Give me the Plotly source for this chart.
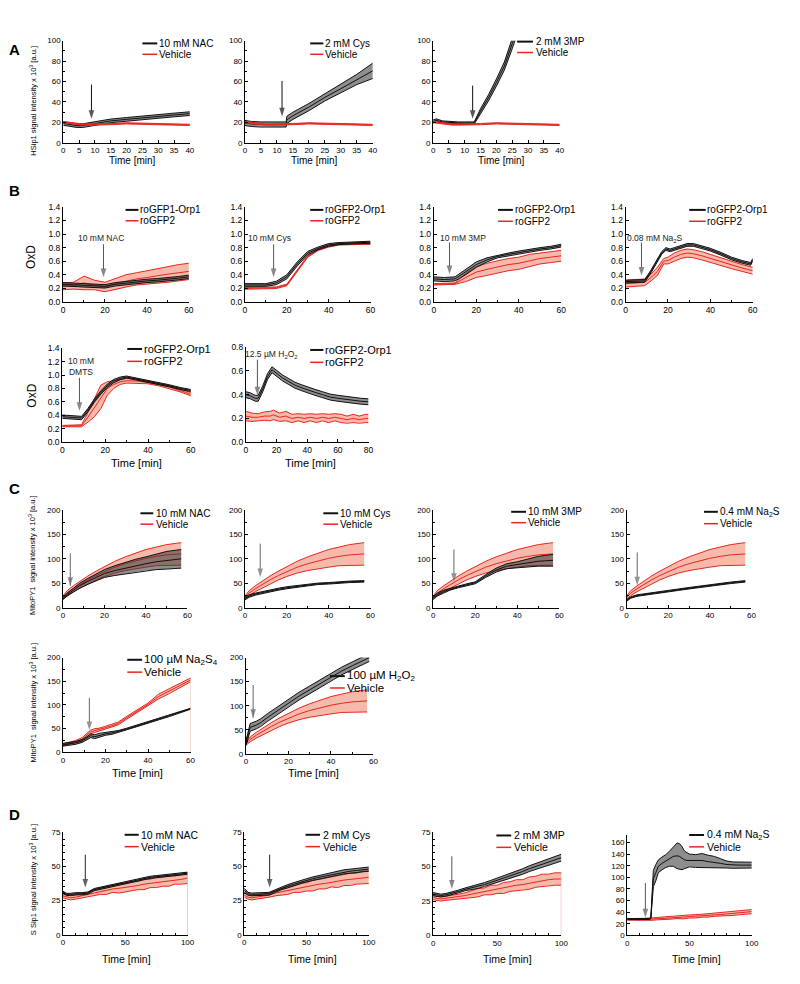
import plotly.graph_objects as go

W, H = 800, 984
FONT = "Arial, Liberation Sans, Helvetica, sans-serif"
BLACK = "#111111"
RED = "#e8261e"
GRAY_FILL = "rgba(60,60,60,0.58)"
RED_FILL = "rgba(238,100,70,0.45)"

# ---------------- Panel A : HSip1 ----------------
A_veh_t = [0, 2, 4, 6, 8, 10, 15, 20, 25, 30, 35, 40]
A_veh_m = [20.3, 19.3, 18.5, 18.0, 17.9, 17.9, 18.4, 19.1, 18.7, 18.3, 18.0, 17.6]
A_veh_sd = [0.6, 0.6, 0.6, 0.6, 0.6, 0.6, 0.6, 0.6, 0.6, 0.6, 0.6, 0.6]

A1_t = [0, 2, 4, 6, 8, 10, 15, 20, 25, 30, 35, 40]
A1_m = [19.0, 18.0, 17.0, 16.8, 17.8, 19.5, 21.5, 23.0, 24.6, 26.0, 27.3, 28.6]
A1_sd = [1.8, 1.8, 1.8, 1.8, 1.8, 1.8, 1.8, 1.8, 1.8, 1.8, 1.8, 1.8]

A2_t = [0, 2, 5, 8, 12.9, 13.1, 15, 20, 25, 30, 35, 40]
A2_m = [19.5, 18.5, 18.0, 18.0, 18.0, 22.5, 26.5, 35.0, 44.5, 53.0, 62.0, 70.5]
A2_sd = [2.5, 2.5, 2.5, 2.5, 2.5, 3.5, 3.5, 3.5, 3.5, 4.0, 5.0, 7.5]

A3_t = [0, 1, 3, 5, 8, 10, 13, 15, 17.5, 20, 22.5, 25, 26]
A3_m = [21.0, 22.0, 20.5, 20.0, 19.5, 19.5, 19.5, 31.0, 44.0, 59.0, 75.0, 97.0, 106.0]
A3_sd = [1.5, 1.5, 1.0, 1.0, 1.0, 1.0, 1.0, 2.5, 3.0, 3.5, 4.0, 5.0, 5.0]

A_arrow_t = [8.9, 11.6, 12.5]

# ---------------- Panel B : OxD ----------------
B_t = [0, 5, 10, 15, 20, 25, 30, 35, 40, 45, 50, 55, 60]
B1_k_m = [0.26, 0.25, 0.24, 0.23, 0.23, 0.26, 0.28, 0.30, 0.31, 0.32, 0.33, 0.35, 0.37]
B1_k_sd = [0.025, 0.025, 0.025, 0.025, 0.025, 0.025, 0.025, 0.025, 0.025, 0.025, 0.025, 0.025, 0.025]
B1_r_m = [0.23, 0.24, 0.28, 0.25, 0.22, 0.27, 0.31, 0.34, 0.36, 0.39, 0.41, 0.43, 0.45]
B1_r_sd = [0.05, 0.05, 0.10, 0.07, 0.07, 0.08, 0.09, 0.09, 0.10, 0.11, 0.12, 0.12, 0.12]

B2_k_m = [0.25, 0.25, 0.25, 0.28, 0.37, 0.56, 0.72, 0.79, 0.84, 0.86, 0.87, 0.88, 0.88]
B2_k_sd = [0.02, 0.02, 0.02, 0.025, 0.03, 0.03, 0.025, 0.02, 0.02, 0.015, 0.015, 0.015, 0.015]
B2_r_m = [0.20, 0.20, 0.20, 0.21, 0.25, 0.46, 0.67, 0.77, 0.82, 0.85, 0.86, 0.86, 0.86]
B2_r_sd = [0.012, 0.012, 0.012, 0.012, 0.012, 0.012, 0.012, 0.012, 0.012, 0.012, 0.012, 0.012, 0.012]

B3_k_m = [0.34, 0.33, 0.34, 0.44, 0.55, 0.62, 0.67, 0.70, 0.73, 0.76, 0.78, 0.80, 0.83]
B3_k_sd = [0.03, 0.03, 0.03, 0.04, 0.04, 0.03, 0.02, 0.02, 0.02, 0.02, 0.02, 0.02, 0.02]
B3_r_m = [0.26, 0.26, 0.27, 0.36, 0.44, 0.48, 0.52, 0.55, 0.57, 0.61, 0.64, 0.66, 0.68]
B3_r_sd = [0.01, 0.01, 0.01, 0.06, 0.08, 0.09, 0.09, 0.09, 0.09, 0.09, 0.08, 0.08, 0.08]

B4_k_t = [0, 5, 9, 12, 15, 17, 19, 21, 23, 26, 29, 32, 36, 40, 45, 50, 55, 59, 60]
B4_k_m = [0.30, 0.30, 0.31, 0.45, 0.62, 0.72, 0.78, 0.76, 0.78, 0.81, 0.84, 0.84, 0.81, 0.77, 0.71, 0.64, 0.59, 0.56, 0.62]
B4_k_sd = [0.02, 0.02, 0.02, 0.02, 0.02, 0.02, 0.02, 0.02, 0.02, 0.02, 0.02, 0.02, 0.02, 0.02, 0.02, 0.02, 0.02, 0.02, 0.02]
B4_r_t = [0, 5, 9, 12, 15, 18, 20, 23, 26, 29, 32, 36, 40, 45, 50, 55, 60]
B4_r_m = [0.27, 0.28, 0.29, 0.36, 0.45, 0.60, 0.61, 0.66, 0.70, 0.72, 0.71, 0.68, 0.64, 0.59, 0.54, 0.50, 0.46]
B4_r_sd = [0.05, 0.05, 0.05, 0.05, 0.06, 0.04, 0.05, 0.06, 0.06, 0.06, 0.06, 0.06, 0.06, 0.06, 0.05, 0.05, 0.05]

B5_t = [0, 4, 8, 9, 12, 15, 18, 21, 24, 27, 30, 35, 40, 45, 50, 55, 60]
B5_k_m = [0.38, 0.37, 0.36, 0.36, 0.48, 0.62, 0.74, 0.84, 0.91, 0.95, 0.97, 0.94, 0.90, 0.87, 0.84, 0.80, 0.77]
B5_k_sd = [0.025, 0.025, 0.025, 0.025, 0.025, 0.025, 0.025, 0.025, 0.025, 0.02, 0.015, 0.015, 0.015, 0.015, 0.015, 0.015, 0.015]
B5_r_m = [0.24, 0.24, 0.24, 0.245, 0.375, 0.515, 0.675, 0.80, 0.86, 0.90, 0.915, 0.91, 0.89, 0.86, 0.82, 0.77, 0.715]
B5_r_sd = [0.01, 0.01, 0.01, 0.015, 0.075, 0.135, 0.175, 0.10, 0.06, 0.04, 0.035, 0.03, 0.02, 0.02, 0.02, 0.02, 0.025]

B6_k_t = [0, 3, 6, 8, 11, 14, 17, 20, 24, 28, 32, 36, 40, 45, 50, 55, 60, 65, 70, 75, 80]
B6_k_m = [0.40, 0.39, 0.37, 0.37, 0.45, 0.55, 0.61, 0.58, 0.54, 0.51, 0.48, 0.46, 0.44, 0.42, 0.40, 0.38, 0.37, 0.36, 0.35, 0.345, 0.34]
B6_k_sd = [0.025, 0.025, 0.025, 0.025, 0.025, 0.025, 0.025, 0.025, 0.025, 0.025, 0.025, 0.025, 0.025, 0.025, 0.025, 0.025, 0.025, 0.025, 0.025, 0.025, 0.025]
B6_r_t = [0, 4, 8, 12, 16, 18, 22, 26, 30, 34, 38, 42, 46, 50, 54, 58, 62, 66, 70, 74, 78, 80]
B6_r_m = [0.22, 0.21, 0.21, 0.22, 0.22, 0.23, 0.21, 0.22, 0.20, 0.21, 0.20, 0.21, 0.20, 0.21, 0.20, 0.21, 0.20, 0.19, 0.20, 0.19, 0.20, 0.20]
B6_r_sd = [0.04, 0.035, 0.03, 0.035, 0.04, 0.04, 0.035, 0.04, 0.035, 0.03, 0.035, 0.03, 0.035, 0.03, 0.035, 0.03, 0.035, 0.03, 0.035, 0.03, 0.035, 0.035]

B_arrow_t = [19.3, 13.7, 7.4, 7.5, 8.0, 7.5]

# ---------------- Panel C : MitoPY1 ----------------
C_t = [0, 2, 5, 8, 12, 16, 20, 25, 30, 35, 40, 45, 50, 57]
C_veh_m = [21, 30, 39, 47, 57, 66, 74, 83, 90, 96, 101, 105, 108, 110]
C_veh_sd = [3, 5, 6, 7, 8, 9, 10, 12, 14, 16, 18, 19, 21, 23]
C1_m = [19, 27, 36, 45, 54, 62, 70, 76, 81, 86, 90, 94, 97, 100]
C1_sd = [2, 3, 4, 5, 6, 7, 8, 10, 12, 13, 14, 16, 18, 19]
C2_m = [19, 24, 28, 31, 35, 38, 41, 44, 47, 49, 50, 52, 53, 54]
C2_sd = [3, 2.5, 2, 2, 2, 2, 2, 2, 1.5, 1.5, 1.5, 1.5, 1.5, 1.5]
C3_m = [20, 27, 33, 38, 43, 47, 51, 65, 77, 85, 88, 92, 95, 97]
C3_sd = [3, 3, 3, 2, 2, 2, 2, 3, 4, 5, 6, 8, 10, 12]
C4_m = [15, 21, 25, 27, 29, 31, 34, 37, 40, 43, 46, 49, 51, 54]
C4_sd = [1.5, 1.5, 1.5, 1.5, 1.5, 1.5, 1.5, 1.5, 1.5, 1.5, 1.5, 1.5, 1.5, 1.5]

C5_t = [0, 3, 6, 9, 11, 13, 15, 17, 20, 23, 26, 30, 35, 40, 45, 50, 55, 60]
C5_k_m = [16, 18, 20, 24, 29, 35, 33, 36, 39, 41, 44, 49, 56, 63, 70, 77, 85, 92]
C5_k_sd = [3, 3, 3, 3, 3, 4, 4, 4, 3, 3, 2, 2, 2, 1.5, 1.5, 1.5, 1, 1]
C5_r_m = [16, 19, 23, 28, 36, 43, 46, 48, 52, 56, 61, 73, 87, 101, 118, 129, 141, 153]
C5_r_sd = [2, 2, 2, 3, 4, 4, 4, 3, 3, 3, 3, 3, 3, 3, 5, 5, 4, 4]

C6_k_t = [0, 2, 5, 7, 10, 15, 20, 25, 30, 35, 40, 45, 50, 55, 58]
C6_k_m = [22, 55, 60, 65, 75, 90, 106, 120, 133, 146, 160, 172, 183, 194, 200]
C6_k_sd = [5, 8, 8, 8, 8, 8, 8, 8, 8, 8, 8, 8, 8, 8, 8]

C_arrow_t = [3.5, 7.3, 9.9, 5.1, 12.4, 3.4]

# ---------------- Panel D : SSip1 ----------------
D_t = [0, 3, 6, 10, 15, 20, 25, 30, 35, 40, 45, 50, 55, 60, 65, 70, 75, 80, 85, 90, 95, 100]
D1_k_m = [31, 29.5, 29.5, 30, 30, 30.5, 33, 34, 35, 36.5, 37, 38, 39, 40, 41, 42, 42.5, 43, 43.5, 44, 44.5, 45]
D1_k_sd = [0.8, 0.8, 0.8, 0.8, 0.8, 0.8, 0.8, 0.8, 0.8, 0.8, 0.8, 0.8, 0.8, 0.8, 0.8, 0.8, 0.8, 0.8, 0.8, 0.8, 0.8, 0.8]
D1_r_m = [28.5, 27.5, 27, 27.5, 28.5, 29.5, 31, 32, 32.5, 33.5, 34, 34.5, 35.5, 36, 37, 37.5, 38.5, 39, 39.5, 40, 40.5, 41.5]
D1_r_sd = [1.5, 1.5, 1.5, 1.5, 1.5, 1.5, 2, 2.5, 3, 2.5, 3.5, 3, 3.5, 3, 4, 3, 4, 3.5, 4, 3, 3.5, 4]

D2_k_m = [32.5, 30, 29.5, 29.5, 29.5, 30, 32, 34, 35.5, 37, 38.5, 40, 41, 42, 43, 44, 45, 46, 46.5, 47, 47.5, 48]
D2_k_sd = [1.5, 1, 1, 1, 1, 1, 1, 1, 1.2, 1.2, 1.2, 1.3, 1.3, 1.3, 1.4, 1.4, 1.4, 1.5, 1.5, 1.5, 1.5, 1.5]
D2_r_m = [29, 27.5, 27, 27.5, 28, 29, 30.5, 31.5, 32.5, 33.5, 34.5, 35, 36, 37, 37.5, 38.5, 39, 40, 40.5, 41, 42, 42]
D2_r_sd = [1.5, 1.5, 1.5, 1.5, 1.5, 1.5, 2, 2.5, 3, 2.5, 3.5, 3, 4, 3.5, 4, 3.5, 4.5, 4, 4.5, 4, 4.5, 4.5]

D3_k_m = [30, 29.5, 29, 29.5, 30.5, 32, 33.5, 34.5, 35.5, 37, 38.5, 40, 41.5, 43, 44.5, 46.5, 48.5, 50, 52, 53.5, 55, 56.5]
D3_k_sd = [1.2, 1, 1, 1, 1, 1, 1, 1.2, 1.3, 1.4, 1.5, 1.6, 1.7, 1.8, 1.9, 2, 2.1, 2.2, 2.3, 2.4, 2.5, 2.5]
D3_r_m = [27.5, 27, 26.5, 27, 27.5, 28, 29, 30, 31, 32, 33, 33.5, 34.5, 35.5, 36.5, 37, 38, 39, 40, 40.5, 41, 41]
D3_r_sd = [1.5, 1.5, 1.5, 1.5, 1.5, 2, 2, 2.5, 3, 2.5, 3.5, 3, 4, 3.5, 4, 3.5, 4.5, 4, 4.5, 4, 4.5, 4.5]

D4_k_t = [0, 5, 10, 15, 17, 18, 19, 20, 21, 23, 25, 28, 31, 34, 37, 40, 42, 44, 46, 48, 50, 55, 60, 65, 70, 75, 80, 85, 90, 95, 100]
D4_k_m = [28, 28, 27.5, 27.5, 28, 28.5, 30, 75, 98, 108, 119, 124, 128, 132, 136, 137, 136, 133, 130, 129, 129, 128, 129, 127, 126, 124, 122, 121, 121, 121, 121]
D4_k_sd = [1, 1, 1, 1, 1, 1, 1, 12, 14, 14, 11, 11, 11, 13, 17, 22, 22, 20, 15, 13, 11, 11, 12, 11, 10, 8, 6, 5.5, 5, 5, 5]
D4_r_m = [28, 27.5, 27, 27, 27.5, 28, 29, 29.5, 30.5, 31, 31.5, 32.5, 33, 34, 34.5, 35.5, 36, 37, 38, 39, 40, 41]
D4_r_sd = [1.5, 1, 1, 1.5, 1.5, 2, 2, 2.5, 2.5, 2, 3, 2.5, 3, 2.5, 3, 2.5, 3, 3, 3.5, 3, 3.5, 3.5]

D_arrow_t = [17.9, 20.4, 14.6, 14.6]

# ---------------- Text ----------------
A_labels = ["10 mM NAC", "2 mM Cys", "2 mM 3MP"]
B_labels = ["roGFP1-Orp1", "roGFP2-Orp1", "roGFP2-Orp1", "roGFP2-Orp1", "roGFP2-Orp1", "roGFP2-Orp1"]
B_treat = ["10 mM NAC", "10 mM Cys", "10 mM 3MP", "0.08 mM Na<sub>2</sub>S", "10 mM<br>DMTS",
           "12.5 µM H<sub>2</sub>O<sub>2</sub>"]
C_labels = ["10 mM NAC", "10 mM Cys", "10 mM 3MP", "0.4 mM Na<sub>2</sub>S",
            "100 µM Na<sub>2</sub>S<sub>4</sub>", "100 µM H<sub>2</sub>O<sub>2</sub>"]
D_labels = ["10 mM NAC", "2 mM Cys", "2 mM 3MP", "0.4 mM Na<sub>2</sub>S"]


def P(x, y):
    return x / W, 1 - y / H


panels = [
    # ---- A ----
    dict(box=(62, 190, 36, 139.3), xr=[0, 40], yr=[0, 100], xd=5, xm=None, yd=20, ym=10, fmt="",
         k=(A1_t, A1_m, A1_sd), r=(A_veh_t, A_veh_m, A_veh_sd), red_top=True,
         arrow=(A_arrow_t[0], 57, 23.5), acol="#111",
         leg=((142, 157), 158, (38.8, 49.8), A_labels[0], "Vehicle", 10)),
    dict(box=(245.7, 375, 36, 139.3), xr=[0, 40], yr=[0, 100], xd=5, xm=None, yd=20, ym=10, fmt="",
         k=(A2_t, A2_m, A2_sd), r=(A_veh_t, A_veh_m, A_veh_sd), red_top=True,
         arrow=(A_arrow_t[1], 60.6, 26), acol="#111",
         leg=((311.7, 325), 326, (38.8, 49.8), A_labels[1], "Vehicle", 10)),
    dict(box=(436, 564, 36, 139.3), xr=[0, 40], yr=[0, 100], xd=5, xm=None, yd=20, ym=10, fmt="",
         k=(A3_t, A3_m, A3_sd), r=(A_veh_t, A_veh_m, A_veh_sd), red_top=True,
         arrow=(A_arrow_t[2], 56, 23.5), acol="#111",
         leg=((521, 537), 539, (37, 48), A_labels[2], "Vehicle", 10)),
    # ---- B row 1 ----
    dict(box=(61.7, 189, 204, 300), xr=[0, 60], yr=[0, 1.4], xd=20, xm=10, yd=0.2, ym=None, fmt=".1f",
         k=(B_t, B1_k_m, B1_k_sd), r=(B_t, B1_r_m, B1_r_sd),
         arrow=(B_arrow_t[0], 0.85, 0.365), acol="#555", atext=(B_treat[0], 100, 235.7),
         leg=((125, 138), 139, (207, 218), B_labels[0], "roGFP2", 10)),
    dict(box=(245.7, 372.7, 204, 300), xr=[0, 60], yr=[0, 1.4], xd=20, xm=10, yd=0.2, ym=None, fmt=".1f",
         k=(B_t, B2_k_m, B2_k_sd), r=(B_t, B2_r_m, B2_r_sd),
         arrow=(B_arrow_t[1], 0.85, 0.365), acol="#555", atext=(B_treat[1], 270.7, 235.7),
         leg=((311.7, 325), 326, (207, 218), B_labels[1], "roGFP2", 10)),
    dict(box=(436.7, 565.7, 204, 300), xr=[0, 60], yr=[0, 1.4], xd=20, xm=10, yd=0.2, ym=None, fmt=".1f",
         k=(B_t, B3_k_m, B3_k_sd), r=(B_t, B3_r_m, B3_r_sd),
         arrow=(B_arrow_t[2], 0.875, 0.41), acol="#555", atext=(B_treat[2], 466.7, 235.7),
         leg=((501.7, 516.7), 518.3, (207, 218.5), B_labels[2], "roGFP2", 10)),
    dict(box=(630.7, 759.3, 204, 300), xr=[0, 60], yr=[0, 1.4], xd=20, xm=10, yd=0.2, ym=None, fmt=".1f",
         k=(B4_k_t, B4_k_m, B4_k_sd), r=(B4_r_t, B4_r_m, B4_r_sd),
         arrow=(B_arrow_t[3], 0.875, 0.39), acol="#555", atext=(B_treat[3], 660, 235.7),
         leg=((695, 711.7), 712.3, (207, 218.5), B_labels[3], "roGFP2", 10)),
    # ---- B row 2 ----
    dict(box=(61, 191, 346.7, 441.7), xr=[0, 60], yr=[0, 1.4], xd=20, xm=10, yd=0.2, ym=None, fmt=".1f",
         k=(B5_t, B5_k_m, B5_k_sd), r=(B5_t, B5_r_m, B5_r_sd),
         arrow=(B_arrow_t[4], 0.958, 0.467), acol="#555", atext=(B_treat[4], 80, 365.5),
         leg=((126.7, 141.7), 142.5, (347.5, 360), B_labels[4], "roGFP2", 11)),
    dict(box=(246.7, 370.7, 345.7, 441.7), xr=[0, 80], yr=[0, 0.8], xd=20, xm=10, yd=0.2, ym=None, fmt=".1f",
         k=(B6_k_t, B6_k_m, B6_k_sd), r=(B6_r_t, B6_r_m, B6_r_sd),
         arrow=(B_arrow_t[5], 0.695, 0.395), acol="#555", atext=(B_treat[5], 273, 353.3),
         leg=((311.7, 325), 325.5, (348.5, 361), B_labels[5], "roGFP2", 11)),
    # ---- C row 1 ----
    dict(box=(61.7, 187.5, 510, 609), xr=[0, 60], yr=[0, 200], xd=20, xm=10, yd=50, ym=25, fmt="",
         k=(C_t, C1_m, C1_sd), r=(C_t, C_veh_m, C_veh_sd),
         arrow=(C_arrow_t[0], 111, 45), acol="#666",
         leg=((140, 153), 154.5, (513.5, 524.5), C_labels[0], "Vehicle", 10)),
    dict(box=(245.7, 372.7, 510, 609), xr=[0, 60], yr=[0, 200], xd=20, xm=10, yd=50, ym=25, fmt="",
         k=(C_t, C2_m, C2_sd), r=(C_t, C_veh_m, C_veh_sd),
         arrow=(C_arrow_t[1], 131, 63), acol="#666",
         leg=((325, 340), 340.7, (513.5, 524.5), C_labels[1], "Vehicle", 10)),
    dict(box=(436, 563.7, 510, 609), xr=[0, 60], yr=[0, 200], xd=20, xm=10, yd=50, ym=25, fmt="",
         k=(C_t, C3_m, C3_sd), r=(C_t, C_veh_m, C_veh_sd),
         arrow=(C_arrow_t[2], 119, 53), acol="#666",
         leg=((515, 530), 531, (512, 523), C_labels[2], "Vehicle", 10)),
    dict(box=(631.7, 758, 510, 609), xr=[0, 60], yr=[0, 200], xd=20, xm=10, yd=50, ym=25, fmt="",
         k=(C_t, C4_m, C4_sd), r=(C_t, C_veh_m, C_veh_sd),
         arrow=(C_arrow_t[3], 113, 46), acol="#666",
         leg=((710, 724), 725, (512, 524), C_labels[3], "Vehicle", 10)),
    # ---- C row 2 ----
    dict(box=(61.7, 190.7, 659.3, 755), xr=[0, 60], yr=[0, 200], xd=20, xm=10, yd=50, ym=25, fmt="",
         k=(C5_t, C5_k_m, C5_k_sd), r=(C5_t, C5_r_m, C5_r_sd),
         arrow=(C_arrow_t[4], 115, 47), acol="#666", vline="rgba(225,170,160,0.7)",
         leg=((126.7, 141.7), 143, (661.5, 674), C_labels[4], "Vehicle", 11.5),
         xtitle=(136.7, 776, 11)),
    dict(box=(246.7, 375.7, 659.3, 756.5), xr=[0, 60], yr=[0, 200], xd=20, xm=10, yd=50, ym=25, fmt="",
         k=(C6_k_t, C6_k_m, C6_k_sd), r=(C_t, C_veh_m, C_veh_sd),
         arrow=(C_arrow_t[5], 143, 75), acol="#666",
         leg=((331.7, 346.7), 348, (678, 690), C_labels[5], "Vehicle", 11.5),
         xtitle=(315, 776, 11)),
    # ---- D ----
    dict(box=(61.7, 187.7, 835.7, 939.3), xr=[0, 100], yr=[0, 75], xd=50, xm=10, yd=25, ym=5, fmt="",
         k=(D_t, D1_k_m, D1_k_sd), r=(D_t, D1_r_m, D1_r_sd),
         arrow=(D_arrow_t[0], 58.6, 34.5), acol="#222", vline="rgba(200,150,140,0.8)",
         leg=((124, 138.3), 140, (838.3, 850.3), D_labels[0], "Vehicle", 10.5),
         xtitle=(125.8, 964, 10.5)),
    dict(box=(245, 371, 835.7, 939.3), xr=[0, 100], yr=[0, 75], xd=50, xm=10, yd=25, ym=5, fmt="",
         k=(D_t, D2_k_m, D2_k_sd), r=(D_t, D2_r_m, D2_r_sd),
         arrow=(D_arrow_t[1], 58.6, 34.5), acol="#222",
         leg=((307, 321.7), 323.3, (838.3, 850.3), D_labels[1], "Vehicle", 10.5),
         xtitle=(314, 964, 10.5)),
    dict(box=(436, 565.7, 835.7, 940), xr=[0, 100], yr=[0, 75], xd=50, xm=10, yd=25, ym=5, fmt="",
         k=(D_t, D3_k_m, D3_k_sd), r=(D_t, D3_r_m, D3_r_sd),
         arrow=(D_arrow_t[2], 57.5, 34), acol="#555", vline="rgba(225,170,160,0.8)",
         leg=((500, 515), 516.7, (839, 851), D_labels[2], "Vehicle", 10.5),
         xtitle=(511.7, 964, 10.5)),
    dict(box=(632.3, 758.3, 839, 940), xr=[0, 100], yr=[0, 172], xd=50, xm=10, yd=20, ym=None, fmt="",
         k=(D4_k_t, D4_k_m, D4_k_sd), r=(D_t, D4_r_m, D4_r_sd),
         arrow=(D_arrow_t[3], 90, 31), acol="#555",
         leg=((695, 710), 711.7, (838.5, 850.5), D_labels[3], "Vehicle", 10.5),
         xtitle=(702.5, 964, 10.5)),
]

fig = go.Figure()
layout = {}
annotations = []
shapes = []


def add_band(xa, ya, t, m, sd, lc, fc):
    hi = [a + b for a, b in zip(m, sd)]
    lo = [a - b for a, b in zip(m, sd)]
    fig.add_trace(go.Scatter(x=list(t) + list(t)[::-1], y=hi + lo[::-1], fill="toself", fillcolor=fc,
                             mode="lines", line=dict(width=0), xaxis=xa, yaxis=ya,
                             hoverinfo="skip", showlegend=False))
    for yy in (hi, lo, m):
        fig.add_trace(go.Scatter(x=t, y=yy, mode="lines", line=dict(color=lc, width=1),
                                 xaxis=xa, yaxis=ya, hoverinfo="skip", showlegend=False))
    return hi


def axis_base(fs):
    return dict(showline=True, linecolor="black", linewidth=1, ticks="inside", ticklen=3,
                tickwidth=1, tickcolor="black", showgrid=False, zeroline=False,
                tickfont=dict(family=FONT, size=fs, color="black"), fixedrange=True)


for i, p in enumerate(panels, start=1):
    xa = "x" if i == 1 else f"x{i}"
    ya = "y" if i == 1 else f"y{i}"
    l, r, t, b = p["box"]
    xd = axis_base(8.5 if p["fmt"] else 8)
    xd.update(domain=[l / W, r / W], range=p["xr"], anchor=ya, tick0=0, dtick=p["xd"])
    if p["xm"]:
        xd["minor"] = dict(dtick=p["xm"], ticks="inside", ticklen=2, tickcolor="black", showgrid=False)
    yd = axis_base(8.5 if p["fmt"] else 8)
    yd.update(domain=[1 - b / H, 1 - t / H], range=p["yr"], anchor=xa, tick0=0, dtick=p["yd"])
    if p["fmt"]:
        yd["tickformat"] = p["fmt"]
    if p["ym"]:
        yd["minor"] = dict(dtick=p["ym"], ticks="inside", ticklen=2, tickcolor="black", showgrid=False)
    layout["xaxis" if i == 1 else f"xaxis{i}"] = xd
    layout["yaxis" if i == 1 else f"yaxis{i}"] = yd

    kt, km, ks = p["k"]
    rt, rm, rs = p["r"]
    if p.get("red_top"):
        add_band(xa, ya, kt, km, ks, BLACK, GRAY_FILL)
        rhi = add_band(xa, ya, rt, rm, rs, RED, RED_FILL)
    else:
        rhi = add_band(xa, ya, rt, rm, rs, RED, RED_FILL)
        add_band(xa, ya, kt, km, ks, BLACK, GRAY_FILL)
    if p.get("vline"):
        fig.add_trace(go.Scatter(x=[rt[-1], rt[-1]], y=[0, rhi[-1]], mode="lines",
                                 line=dict(color=p["vline"], width=1.2), xaxis=xa, yaxis=ya,
                                 hoverinfo="skip", showlegend=False))

    # arrow marking the time of addition
    at, ytop, ytip = p["arrow"]
    fig.add_trace(go.Scatter(x=[at, at], y=[ytop, ytip], mode="lines+markers",
                             line=dict(color=p["acol"], width=1),
                             marker=dict(symbol="arrow", size=[0, 9], angleref="previous",
                                         color=p["acol"], line=dict(width=0)),
                             xaxis=xa, yaxis=ya, hoverinfo="skip", showlegend=False, cliponaxis=False))
    if p.get("atext"):
        txt, tx, ty = p["atext"]
        px_, py_ = P(tx, ty)
        annotations.append(dict(x=px_, y=py_, xref="paper", yref="paper", text=txt, showarrow=False,
                                xanchor="center", yanchor="middle",
                                font=dict(family=FONT, size=8.5, color="#222")))

    # legend
    (lx0, lx1), tx, (ty1, ty2), lab1, lab2, fs = p["leg"]
    for yy, col, lab, lw in ((ty1, BLACK, lab1, 2), (ty2, RED, lab2, 1.5)):
        x0, y0 = P(lx0, yy)
        x1, _ = P(lx1, yy)
        shapes.append(dict(type="line", xref="paper", yref="paper", x0=x0, x1=x1, y0=y0, y1=y0,
                           line=dict(color=col, width=lw)))
        ax_, ay_ = P(tx, yy)
        annotations.append(dict(x=ax_, y=ay_, xref="paper", yref="paper", text=lab, showarrow=False,
                                xanchor="left", yanchor="middle", borderpad=0,
                                font=dict(family=FONT, size=fs, color="black")))
    if p.get("xtitle"):
        cx, cy, fs2 = p["xtitle"]
        ax_, ay_ = P(cx, cy)
        annotations.append(dict(x=ax_, y=ay_, xref="paper", yref="paper", text="Time [min]",
                                showarrow=False, xanchor="center", yanchor="middle",
                                font=dict(family=FONT, size=fs2, color="black")))

# B row 2 x titles
for cx in (135.8, 312):
    ax_, ay_ = P(cx, 462.5)
    annotations.append(dict(x=ax_, y=ay_, xref="paper", yref="paper", text="Time [min]", showarrow=False,
                            xanchor="center", yanchor="middle", font=dict(family=FONT, size=11, color="black")))

# A x titles
for cx in (131.7, 315.8, 505):
    ax_, ay_ = P(cx, 157.5)
    annotations.append(dict(x=ax_, y=ay_, xref="paper", yref="paper", text="Time [min]", showarrow=False,
                            xanchor="center", yanchor="middle", font=dict(family=FONT, size=10, color="black")))

# y-axis titles
ytitles = [
    ("HSip1 signal intensity x 10<sup>3</sup> [a.u.]", 31, 97, 7.5),
    ("OxD", 30, 255, 12),
    ("OxD", 30, 395, 12),
    ("MitoPY1  signal intensity x 10<sup>3</sup> [a.u.]", 31, 556, 7.5),
    ("MitoPY1  signal intensity x 10<sup>3</sup> [a.u.]", 31, 705, 7.5),
    ("S Sip1 signal intensity x 10<sup>3</sup> [a.u.]", 31.5, 884, 7.5),
]
for txt, x, y, fs in ytitles:
    ax_, ay_ = P(x, y)
    annotations.append(dict(x=ax_, y=ay_, xref="paper", yref="paper", text=txt, showarrow=False,
                            textangle=-90, xanchor="center", yanchor="middle",
                            font=dict(family=FONT, size=fs, color="black")))

# panel letters
for letter, x, y in (("A", 13, 45), ("B", 13, 187), ("C", 13, 488), ("D", 13, 818)):
    ax_, ay_ = P(x, y)
    annotations.append(dict(x=ax_, y=ay_, xref="paper", yref="paper", text=f"<b>{letter}</b>",
                            showarrow=False, xanchor="center", yanchor="middle",
                            font=dict(family=FONT, size=15, color="black")))

fig.update_layout(width=W, height=H, margin=dict(l=0, r=0, t=0, b=0),
                  paper_bgcolor="white", plot_bgcolor="white", showlegend=False,
                  annotations=annotations, shapes=shapes, **layout)

fig.write_html("out.html", config={"displayModeBar": False},
               post_script="document.body.style.margin='0px';document.body.style.padding='0px';")
